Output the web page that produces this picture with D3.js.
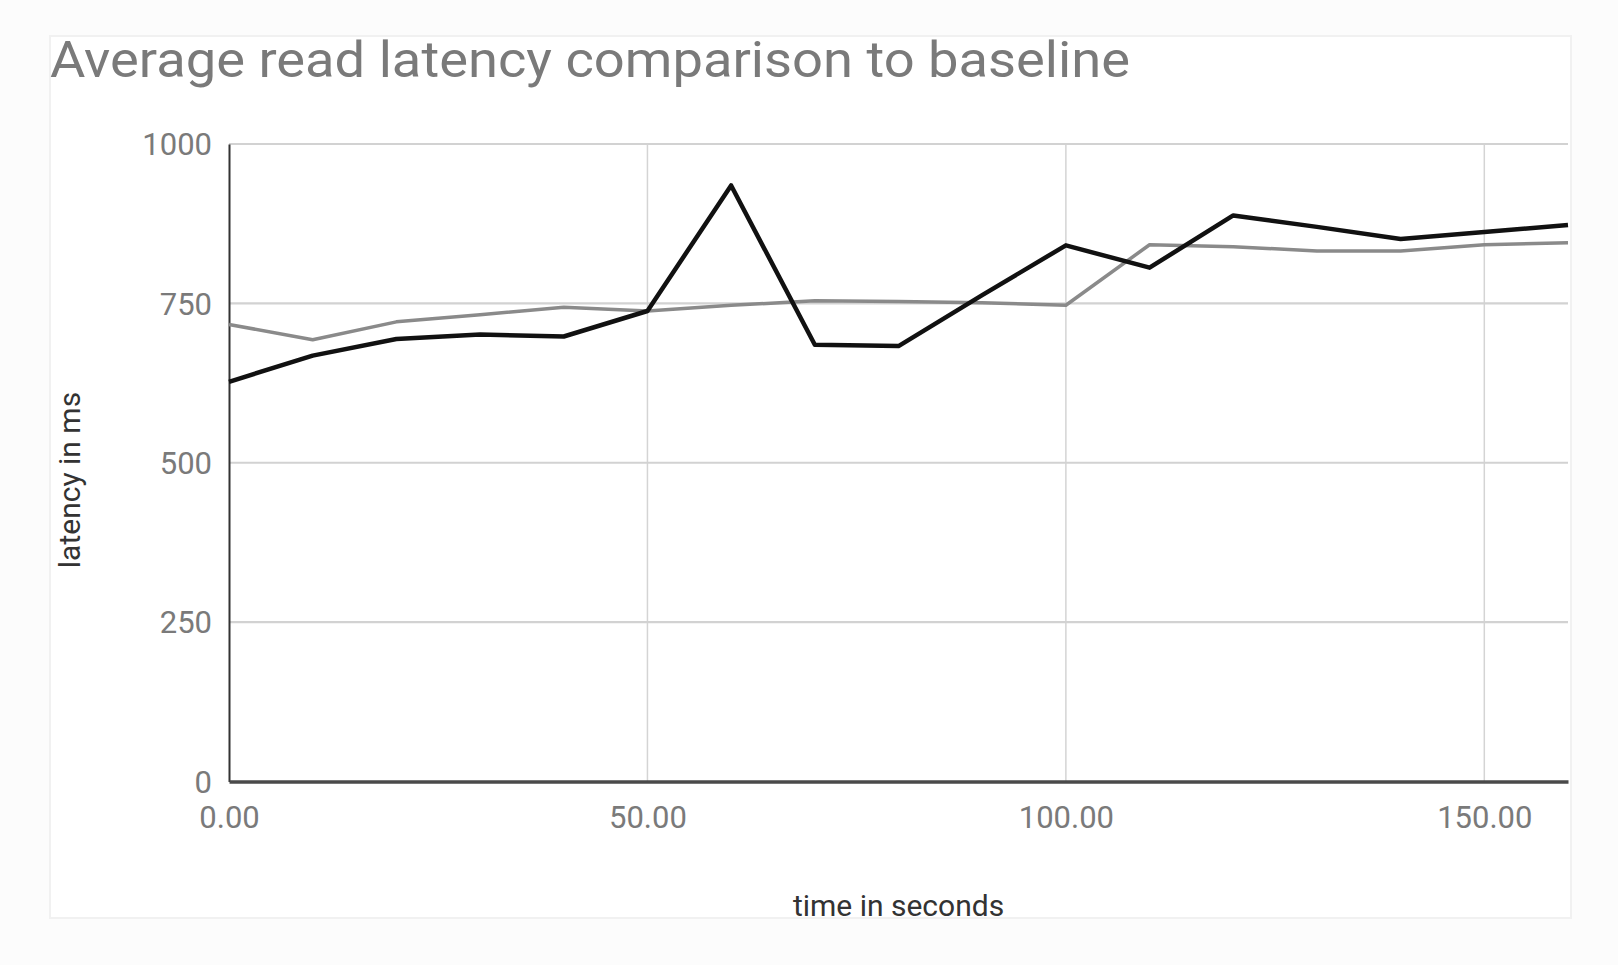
<!DOCTYPE html>
<html><head><meta charset="utf-8">
<script src="https://cdn.jsdelivr.net/npm/d3@7"></script>
<style>html,body{margin:0;padding:0;background:#fcfcfc;}svg{display:block;}</style>
</head><body>
<script>
const times = [0,10,20,30,40,50,60,70,80,90,100,110,120,130,140,150,160];
const testLatency = [627,668,694,701,698,738,935,685,683,763,841,806,888,870,851,862,873];
const baselineLatency = [717,693,721,732,744,738,747,754,753,751,747,842,839,832,832,842,845];
const yTicks = [0,250,500,750,1000];
const xTicks = [0,50,100,150];
const title = "Average read latency comparison to baseline";
const xTitle = "time in seconds";
const yTitle = "latency in ms";

const W = 1618, H = 965;
const m = {left:229, right:W-1568, top:144, bottom:H-781.5};
const svg = d3.select("body").append("svg").attr("width",W).attr("height",H);
svg.append("rect").attr("x",50).attr("y",36).attr("width",1521).attr("height",882)
  .attr("fill","#fff").attr("stroke","#f1f1f1").attr("stroke-width",2);

const x = d3.scaleLinear().domain([0,160]).range([m.left, W-m.right]);
const y = d3.scaleLinear().domain([0,1000]).range([H-m.bottom, m.top]);
const font = "Roboto, 'Noto Sans', sans-serif";

svg.append("text").attr("x",50).attr("y",77).attr("font-family",font).attr("font-size",50)
  .attr("fill","#7a7a7a").attr("textLength",1080).attr("lengthAdjust","spacingAndGlyphs").text(title);

// vertical grid
svg.append("g").selectAll("line").data(xTicks.filter(d=>d>0)).join("line")
  .attr("x1",d=>x(d)).attr("x2",d=>x(d)).attr("y1",y(1000)).attr("y2",y(0))
  .attr("stroke","#d4d4d4").attr("stroke-width",1.5);
// horizontal grid
svg.append("g").selectAll("line").data(yTicks.filter(d=>d>0)).join("line")
  .attr("x1",x(0)).attr("x2",x(160)).attr("y1",d=>y(d)).attr("y2",d=>y(d))
  .attr("stroke","#d2d2d2").attr("stroke-width",2.2);

// axes via d3
const yAxis = svg.append("g").attr("transform",`translate(${x(0)},0)`)
  .call(d3.axisLeft(y).tickValues(yTicks).tickSize(0).tickPadding(17).tickFormat(d3.format("d")));
yAxis.select(".domain").attr("stroke","#333").attr("stroke-width",2);
yAxis.selectAll("text").attr("font-family",font).attr("font-size",31).attr("fill","#7a7a7a").attr("dy","0.35em");

const xAxis = svg.append("g").attr("transform",`translate(0,${y(0)})`)
  .call(d3.axisBottom(x).tickValues(xTicks).tickSize(0).tickPadding(24).tickFormat(d3.format(".2f")));
xAxis.select(".domain").attr("stroke","#4a4a4a").attr("stroke-width",3.5);
xAxis.selectAll("text").attr("font-family",font).attr("font-size",31).attr("fill","#7a7a7a");

const line = d3.line().x((d,i)=>x(times[i])).y(d=>y(d));
svg.append("path").datum(baselineLatency).attr("d",line).attr("fill","none")
  .attr("stroke","#8a8a8a").attr("stroke-width",3.5).attr("stroke-linejoin","round");
svg.append("path").datum(testLatency).attr("d",line).attr("fill","none")
  .attr("stroke","#111").attr("stroke-width",4.5).attr("stroke-linejoin","round");

svg.append("text").attr("x",(x(0)+x(160))/2).attr("y",916).attr("text-anchor","middle")
  .attr("font-family",font).attr("font-size",30).attr("fill","#333").text(xTitle);
svg.append("text").attr("transform",`translate(80,480) rotate(-90)`).attr("text-anchor","middle")
  .attr("font-family",font).attr("font-size",30).attr("fill","#333").text(yTitle);
</script>
</body></html>
